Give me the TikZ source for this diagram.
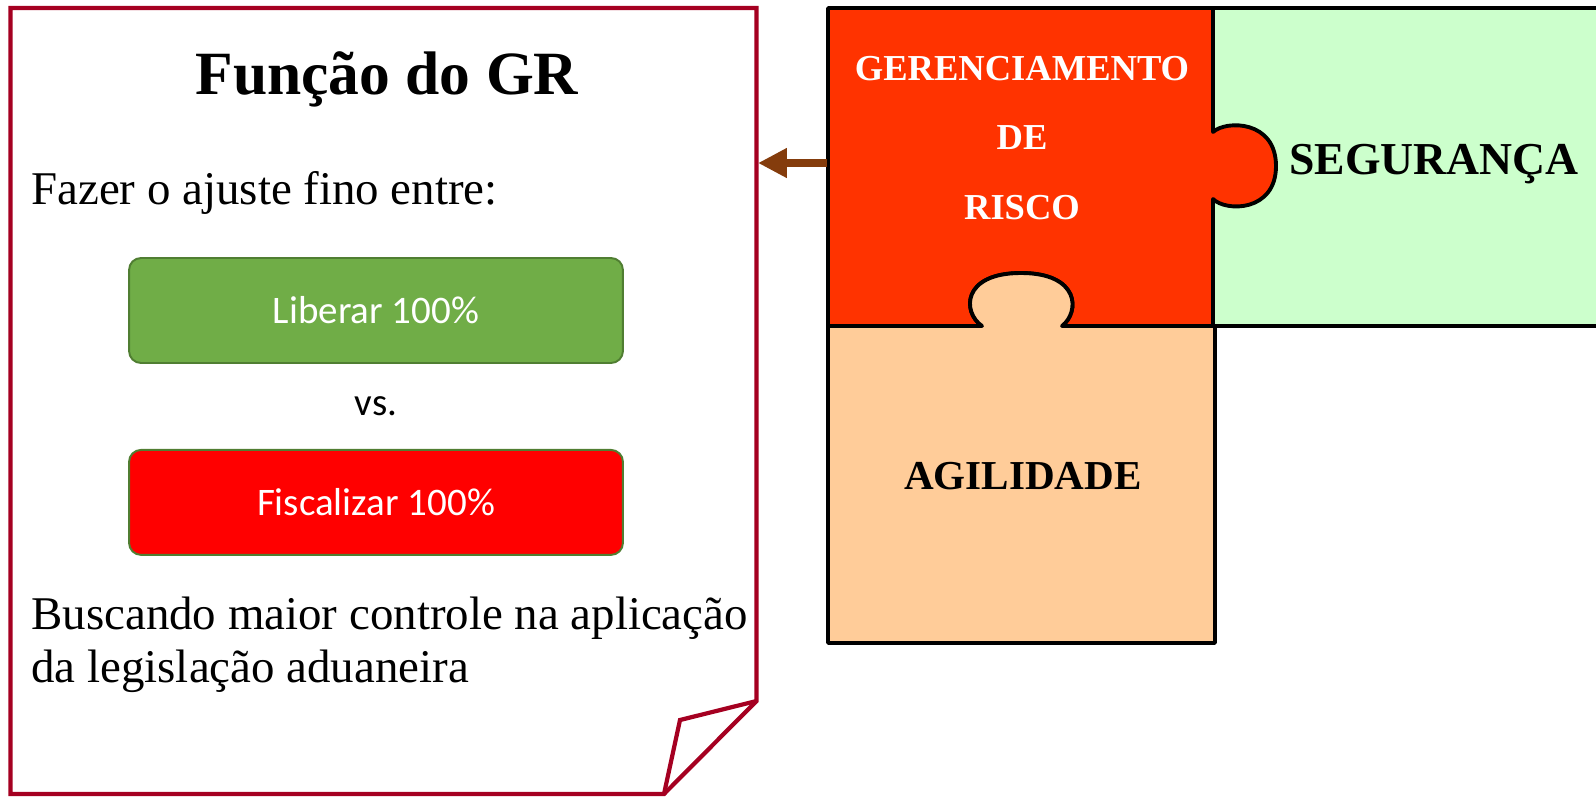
\documentclass[tikz,border=0pt]{standalone}
\usepackage{fontspec}
\setmainfont{Liberation Serif}
\newfontfamily\calibrifont{Carlito}
\usetikzlibrary{positioning,calc,arrows.meta}

\definecolor{pagered}{RGB}{165,0,33}
\definecolor{riskred}{RGB}{255,51,0}
\definecolor{safegreen}{RGB}{204,255,204}
\definecolor{agileorange}{RGB}{255,204,153}
\definecolor{arrowbrown}{RGB}{132,60,12}
\definecolor{okgreen}{RGB}{112,173,71}
\definecolor{boxborder}{RGB}{80,126,50}

\begin{document}
\begin{tikzpicture}[x=0.02cm, y=-0.02cm,
  pageline/.style={draw=pagered, line width=2.4pt},
  piece/.style={draw=black, line width=2.2pt, line join=round},
  optbox/.style={draw=boxborder, line width=1.1pt, rounded corners=6.8pt,
    minimum width=9.88cm, minimum height=2.1cm, text=white,
    font=\calibrifont\fontsize{22.2}{26}\selectfont},
  bodytext/.style={inner sep=0pt, font=\fontsize{26.7}{30.2}\selectfont},
  piecelabel/.style={inner sep=0pt, font=\bfseries}]
\useasboundingbox (0,0) rectangle (1596,796);

% folded page
\draw[pageline] (10.5,8) -- (756.5,8) -- (756.5,701) -- (664,794) -- (10.5,794) -- cycle;
\draw[pageline] (756.5,701) -- (680,720) -- (664,794);

\node[inner sep=0pt, anchor=base, font=\bfseries\fontsize{35}{42}\selectfont] (title) at (387,94) {Função do GR};
\node[bodytext, anchor=base west] (intro) at (31,204) {Fazer o ajuste fino entre:};
\node[optbox, fill=okgreen] (liberar) at (376,310.5) {Liberar 100\%};
\node[optbox, fill=red] (fiscalizar) [below=1.7cm of liberar] {Fiscalizar 100\%};
\node[font=\calibrifont\fontsize{22.2}{26}\selectfont] (vs) at ($(liberar)!0.5!(fiscalizar)$) {vs.};
\node[bodytext, anchor=north west, align=left] (goal) at (31,597) {Buscando maior controle na aplicação\\da legislação aduaneira};

% puzzle
\draw[piece, fill=safegreen] (1213,8) rectangle (1610,326);
\draw[piece, fill=riskred] (828,8) -- (1213,8) -- (1213,132)
  .. controls (1226,120) and (1276,120) .. (1276,166)
  .. controls (1276,212) and (1226,212) .. (1213,199)
  -- (1213,326) -- (1062,326)
  .. controls (1080,312) and (1080,273) .. (1021,273)
  .. controls (962,273) and (962,312) .. (982,326)
  -- (828,326) -- cycle;
\draw[piece, fill=agileorange] (828,326) -- (982,326)
  .. controls (962,312) and (962,273) .. (1021,273)
  .. controls (1080,273) and (1080,312) .. (1062,326)
  -- (1215,326) -- (1215,643) -- (828,643) -- cycle;

\node[piecelabel, align=center, text=white, font=\bfseries\fontsize{20.8}{39.8}\selectfont] (gr) at (1022,138) {GERENCIAMENTO\\DE\\RISCO};
\node[piecelabel, anchor=base, font=\bfseries\fontsize{26}{31}\selectfont] (seguranca) at (1434,174) {SEGURANÇA};
\node[piecelabel, anchor=base, font=\bfseries\fontsize{23.4}{28}\selectfont] (agilidade) at (1023,489) {AGILIDADE};

% link from the risk piece to the page
\coordinate (grleft) at (827,163);
\coordinate (pageright) at (758,163);
\draw[arrowbrown, line width=4.9pt, -{Triangle[length=16.5pt,width=16pt]}] (grleft) -- (pageright);
\end{tikzpicture}
\end{document}
